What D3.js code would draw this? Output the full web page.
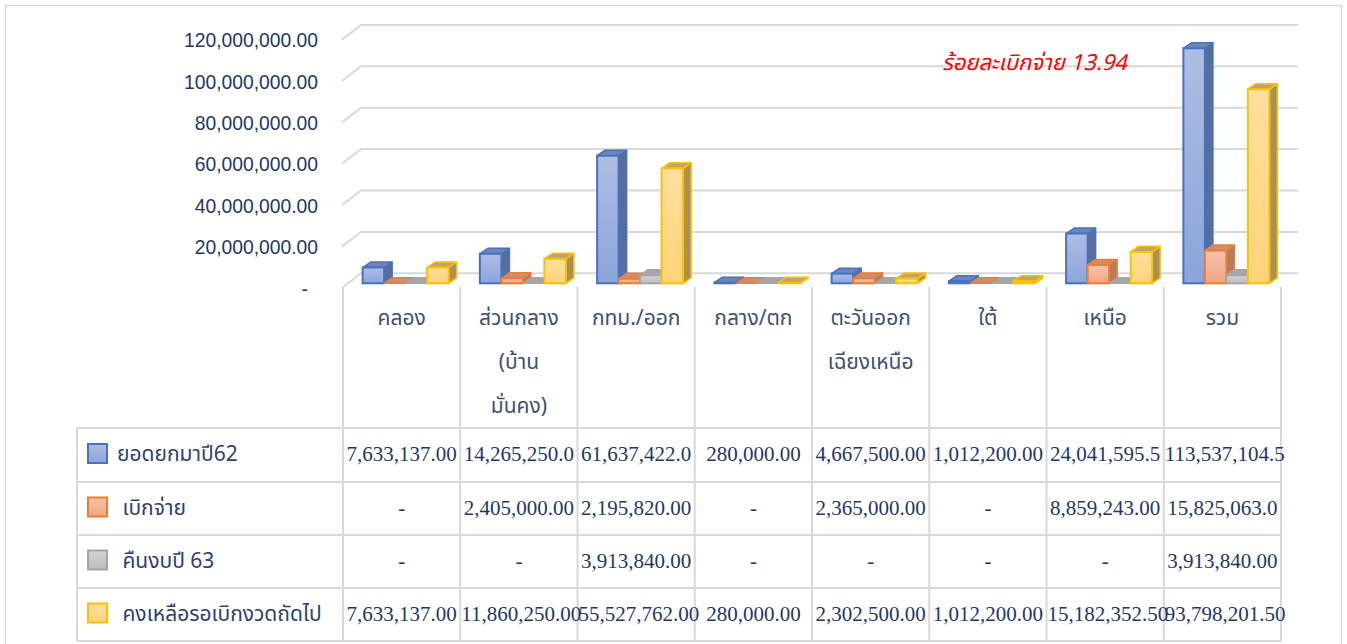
<!DOCTYPE html>
<html>
<head>
<meta charset="utf-8">
<script src="https://cdn.jsdelivr.net/npm/d3@7"></script>
<style>
  body { margin: 0; background: #fff; }
  svg { display: block; }
</style>
</head>
<body>
<div id="chart"></div>
<script>
// data
var categories = ["คลอง", "ส่วนกลาง (บ้านมั่นคง)", "กทม./ออก", "กลาง/ตก", "ตะวันออกเฉียงเหนือ", "ใต้", "เหนือ", "รวม"];
var categoryLines = [["คลอง"], ["ส่วนกลาง", "(บ้าน", "มั่นคง)"], ["กทม./ออก"], ["กลาง/ตก"], ["ตะวันออก", "เฉียงเหนือ"], ["ใต้"], ["เหนือ"], ["รวม"]];
var seriesNames = ["ยอดยกมาปี62", " เบิกจ่าย", " คืนงบปี 63", " คงเหลือรอเบิกงวดถัดไป"];
var carried62 = [7633137.00, 14265250.00, 61637422.00, 280000.00, 4667500.00, 1012200.00, 24041595.50, 113537104.50];
var disbursed = [0, 2405000.00, 2195820.00, 0, 2365000.00, 0, 8859243.00, 15825063.00];
var returned63 = [0, 0, 3913840.00, 0, 0, 0, 0, 3913840.00];
var remaining = [7633137.00, 11860250.00, 55527762.00, 280000.00, 2302500.00, 1012200.00, 15182352.50, 93798201.50];
var yTicks = [0, 20000000, 40000000, 60000000, 80000000, 100000000, 120000000];
var note = "ร้อยละเบิกจ่าย 13.94";

var seriesValues = [carried62, disbursed, returned63, remaining];

var width = 1347, height = 644;
var thai = "'Leelawadee UI', Tahoma, 'Noto Sans Thai', 'Noto Sans', sans-serif";

var colors = [
  {line: "#4472c4", top: "#7185b3", side: "#5a6c99", g0: "#aebde3", g1: "#8ca5da"},
  {line: "#ed7d31", top: "#c98f72", side: "#b27c60", g0: "#f9c3ab", g1: "#f4a47f"},
  {line: "#a5a5a5", top: "#a6a6a6", side: "#8e8e8e", g0: "#d3d3d3", g1: "#bdbdbd"},
  {line: "#ffc000", top: "#bca46c", side: "#a8905c", g0: "#ffdf9e", g1: "#ffd479"}
];

var svg = d3.select("#chart").append("svg")
  .attr("width", width)
  .attr("height", height);

var defs = svg.append("defs");
colors.forEach(function(c, i) {
  var g = defs.append("linearGradient").attr("id", "grad" + i)
    .attr("x1", 0).attr("y1", 0).attr("x2", 0).attr("y2", 1);
  g.append("stop").attr("offset", "0%").attr("stop-color", c.g0);
  g.append("stop").attr("offset", "100%").attr("stop-color", c.g1);
});

// outer border
svg.append("rect")
  .attr("x", 5.5).attr("y", 5.5)
  .attr("width", 1336).attr("height", 660)
  .attr("fill", "none").attr("stroke", "#d9d9d9").attr("stroke-width", 1.5);

// 3d geometry
var depthX = 19, depthY = -14.7;   // floor front -> back wall
var x = d3.scaleBand().domain(categories).range([342, 1280]);
var inner = d3.scaleBand().domain(d3.range(4)).range([0, 86]);
var yFront = d3.scaleLinear().domain([0, 120000000]).range([288, 39.6]);
var yH = d3.scaleLinear().domain([0, 120000000]).range([0, 248.4]);

var barBase = 283.3, barShift = 5, barDX = 8, barDY = -5.5;

// gridlines: side diagonal + back wall
var grid = svg.append("g");
yTicks.forEach(function(t) {
  var yf = yFront(t), yb = yf + depthY;
  grid.append("path")
    .attr("d", "M342," + yf + "L" + (342 + depthX) + "," + yb + "L1298," + yb)
    .attr("fill", "none").attr("stroke", "#d9d9d9").attr("stroke-width", 2);
});

// y axis labels
var fmt = d3.format(",.2f");
var fmt1 = d3.format(",.1f");
var yAxis = d3.axisLeft(yFront)
  .tickValues(yTicks)
  .tickSize(0)
  .tickPadding(0)
  .tickFormat(function(d) { return d === 0 ? "-" : fmt(d); });

var ax = svg.append("g")
  .attr("transform", "translate(318,1)")
  .call(yAxis);
ax.select(".domain").remove();
ax.selectAll("text")
  .attr("fill", "#1f3864")
  .style("font-family", "'Liberation Sans', Arial, sans-serif")
  .style("font-size", "19.3px")
  .attr("dx", function(d) { return d === 0 ? -10 : 0; });

// bars
var bars = svg.append("g");
categories.forEach(function(cat, ci) {
  seriesValues.forEach(function(vals, si) {
    var c = colors[si];
    var bw = inner.bandwidth();
    var x0 = x(cat) + (x.bandwidth() - 86) / 2 + barShift + inner(si);
    var h = yH(vals[ci]);
    var yt = barBase - h;
    var g = bars.append("g");
    // side
    g.append("path")
      .attr("d", "M" + (x0 + bw) + "," + yt + "L" + (x0 + bw + barDX) + "," + (yt + barDY) +
        "L" + (x0 + bw + barDX) + "," + (barBase + barDY) + "L" + (x0 + bw) + "," + barBase + "Z")
      .attr("fill", c.side).attr("stroke", c.line).attr("stroke-width", 1.5).attr("stroke-linejoin", "round");
    // top
    g.append("path")
      .attr("d", "M" + x0 + "," + yt + "L" + (x0 + barDX) + "," + (yt + barDY) +
        "L" + (x0 + bw + barDX) + "," + (yt + barDY) + "L" + (x0 + bw) + "," + yt + "Z")
      .attr("fill", c.top).attr("stroke", c.line).attr("stroke-width", 1.5).attr("stroke-linejoin", "round");
    // front
    g.append("rect")
      .attr("x", x0).attr("y", yt)
      .attr("width", bw).attr("height", h)
      .attr("fill", "url(#grad" + si + ")")
      .attr("stroke", c.line).attr("stroke-width", 2);
  });
});

// annotation
svg.append("text")
  .attr("x", 942).attr("y", 70)
  .attr("fill", "#ff0000")
  .style("font-family", thai)
  .style("font-size", "22px")
  .style("font-style", "italic")
  .text(note);

// data table
var rowTops = [428, 482, 535, 588, 641];
var tableLeft = 77, tableRight = 1281;
var lines = svg.append("g").attr("stroke", "#d9d9d9").attr("stroke-width", 2);
rowTops.forEach(function(ry) {
  lines.append("line").attr("x1", tableLeft).attr("x2", tableRight).attr("y1", ry).attr("y2", ry);
});
lines.append("line").attr("x1", tableLeft).attr("x2", tableLeft).attr("y1", 428).attr("y2", 641);
categories.concat(["end"]).forEach(function(cat, i) {
  var xx = i < categories.length ? x(cat) + 1 : tableRight;
  lines.append("line").attr("x1", xx).attr("x2", xx).attr("y1", 287).attr("y2", 641);
});

// category labels
categories.forEach(function(cat, ci) {
  var t = svg.append("text")
    .attr("x", x(cat) + x.bandwidth() / 2 + 1)
    .attr("y", 325)
    .attr("text-anchor", "middle")
    .attr("fill", "#3e4f74")
    .style("font-family", thai)
    .style("font-size", "21px");
  categoryLines[ci].forEach(function(l, li) {
    t.append("tspan")
      .attr("x", x(cat) + x.bandwidth() / 2 + 1)
      .attr("dy", li === 0 ? 0 : 44)
      .text(l);
  });
});

// legend column + values
seriesNames.forEach(function(name, si) {
  var top = rowTops[si], bot = rowTops[si + 1];
  var cy = (top + bot) / 2 - 1;
  var c = colors[si];
  svg.append("rect")
    .attr("x", 88).attr("y", cy - 10)
    .attr("width", 19).attr("height", 19)
    .attr("fill", "url(#grad" + si + ")")
    .attr("stroke", c.line).attr("stroke-width", 2);
  svg.append("text")
    .attr("x", 117).attr("y", cy + 7)
    .attr("fill", "#2f3f6e")
    .style("font-family", thai)
    .style("font-size", "21px")
    .style("white-space", "pre")
    .attr("xml:space", "preserve")
    .text(name);

  categories.forEach(function(cat, ci) {
    var v = seriesValues[si][ci];
    var left = x(cat) + 1, cw = x.bandwidth();
    var t = svg.append("text")
      .attr("y", cy + 7)
      .attr("fill", "#1f3864")
      .style("font-family", "'Liberation Serif', 'Times New Roman', serif")
      .style("font-size", "21px")
      .text(v === 0 ? "-" : fmt(v));
    // upper rows lose a decimal when the number is too wide for its cell
    if (si < 3 && t.node().getComputedTextLength() > cw) t.text(fmt1(v));
    var tw = t.node().getComputedTextLength();
    if (tw > cw) {
      t.attr("x", left + 1).attr("text-anchor", "start");
    } else {
      t.attr("x", left + cw / 2).attr("text-anchor", "middle");
    }
  });
});
</script>
</body>
</html>
